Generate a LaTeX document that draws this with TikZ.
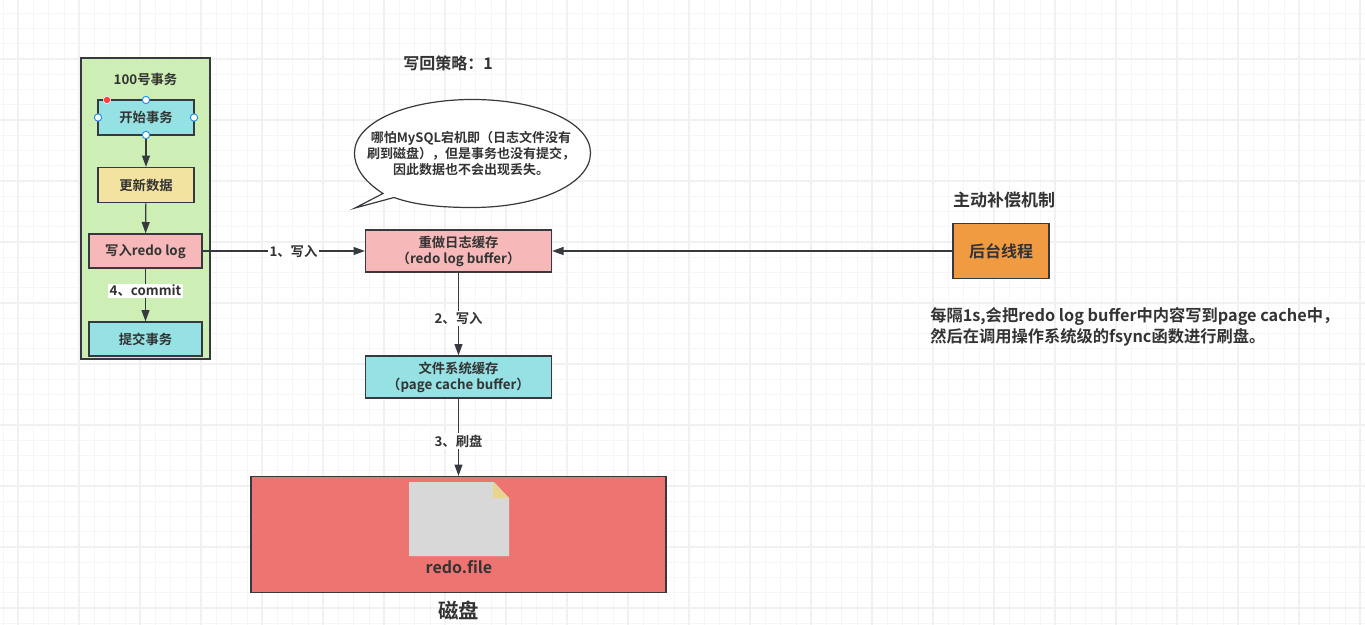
\documentclass[tikz,border=0pt]{standalone}
\usepackage{fontspec}
\setmainfont{Noto Sans CJK SC}[BoldFont={Noto Sans CJK SC Bold}]
\usetikzlibrary{arrows.meta}
\definecolor{inkline}{HTML}{36393D}
\definecolor{inktext}{HTML}{333333}
\definecolor{gridlight}{HTML}{F6F6F6}
\definecolor{gridmajor}{HTML}{F1F1F1}
\definecolor{groupgreen}{HTML}{CDEEB4}
\definecolor{cyanbox}{HTML}{95E1E3}
\definecolor{yellowbox}{HTML}{F3E3A0}
\definecolor{pinkbox}{HTML}{F6B8B8}
\definecolor{orangebox}{HTML}{F09A42}
\definecolor{diskred}{HTML}{EE7472}
\definecolor{pagegray}{HTML}{D8D8D8}
\definecolor{foldyellow}{HTML}{E8D48C}
\definecolor{handleblue}{HTML}{1E8CF0}
\tikzset{
    boxnode/.style={draw=inkline, line width=1pt, align=center, inner sep=0pt, text=inktext, font=\fontsize{10}{12}\selectfont\bfseries},
    plaintext/.style={align=center, inner sep=0pt, text=inktext, font=\fontsize{10}{12}\selectfont\bfseries},
    flowarrow/.style={draw=inkline, line width=0.9pt, -{Triangle[length=8.5pt,width=6pt]}},
    flowlabel/.style={plaintext, fill=white, inner sep=1pt},
    handle/.style={circle, draw=handleblue, fill=white, line width=0.7pt, minimum size=5.5pt, inner sep=0pt}
}
\begin{document}
\begin{tikzpicture}[x=0.75pt, y=-0.75pt]
    \useasboundingbox (0,0) rectangle (1365,625);
    \fill[white] (0,0) rectangle (1365,625);
    % background grid
    \foreach \i in {0,...,89} {
        \draw[gridlight, line width=0.75pt] ({3+15.25*\i},0) -- ({3+15.25*\i},625);
    }
    \foreach \i in {0,...,41} {
        \draw[gridlight, line width=0.75pt] (0,{-2+15.25*\i}) -- (1365,{-2+15.25*\i});
    }
    \foreach \i in {0,...,22} {
        \draw[gridmajor, line width=1.1pt] ({18+61*\i},0) -- ({18+61*\i},625);
    }
    \foreach \i in {0,...,10} {
        \draw[gridmajor, line width=1.1pt] (0,{-2+61*\i}) -- (1365,{-2+61*\i});
    }

    % transaction group
    \node[boxnode, fill=groupgreen, minimum width=129pt*0.75, minimum height=301pt*0.75] (group) at (145.5,208.5) {};
    \node[plaintext] (grouptitle) at (145.5,79.5) {100号事务};
    \node[boxnode, fill=cyanbox, minimum width=96pt*0.75, minimum height=35pt*0.75] (start) at (146,117.5) {开始事务};
    \node[boxnode, fill=yellowbox, minimum width=96pt*0.75, minimum height=35pt*0.75] (update) at (146,185) {更新数据};
    \node[boxnode, fill=pinkbox, minimum width=113pt*0.75, minimum height=34pt*0.75] (writelog) at (145.5,251) {写入redo log};
    \node[boxnode, fill=cyanbox, minimum width=113pt*0.75, minimum height=34pt*0.75] (commit) at (145.5,339) {提交事务};
    \draw[flowarrow] (start) -- (update);
    \draw[flowarrow] (update) -- (writelog);
    \draw[flowarrow] (writelog) -- node[flowlabel, pos=0.42] (commitlabel) {4、commit} (commit);
    % selection handles
    \node[handle] (handletop) at (146,100) {};
    \node[handle] (handleleft) at (98,117.5) {};
    \node[handle] (handleright) at (194,117.5) {};
    \node[handle] (handlebottom) at (146,135) {};
    \node[circle, fill=red!75!white, draw=white, line width=0.4pt, minimum size=5.5pt, inner sep=0pt] (handlered) at (107,100) {};

    % title and callout
    \node[plaintext, font=\fontsize{12}{14}\selectfont\bfseries] (policy) at (448,63.5) {写回策略：1};
    \draw[draw=inkline, line width=0.9pt, fill=white] (383,193.5)
        .. controls (362,180) and (354.5,166) .. (354.5,153)
        .. controls (354.5,122) and (407,99.5) .. (472.5,99.5)
        .. controls (538,99.5) and (590.5,122) .. (590.5,153)
        .. controls (590.5,184) and (538,207.5) .. (472.5,207.5)
        .. controls (440,207.5) and (415,205) .. (394,197.5)
        -- (355,208) -- cycle;
    \node[plaintext, font=\fontsize{9.75}{12.2}\selectfont\bfseries] (note) at (471,153.5) {哪怕MySQL宕机即（日志文件没有\\刷到磁盘），但是事务也没有提交，\\因此数据也不会出现丢失。};

    % buffers
    \node[boxnode, fill=pinkbox, minimum width=186pt*0.75, minimum height=42pt*0.75] (logbuffer) at (458.5,251) {重做日志缓存\\（redo log buffer）};
    \node[boxnode, fill=cyanbox, minimum width=186pt*0.75, minimum height=42pt*0.75] (pagecache) at (458.5,377) {文件系统缓存\\（page cache buffer）};

    % disk
    \node[boxnode, fill=diskred, minimum width=415pt*0.75, minimum height=116pt*0.75] (disk) at (458.5,534.5) {};
    \fill[pagegray] (409,482) -- (494,482) -- (509,498) -- (509,556) -- (409,556) -- cycle;
    \fill[foldyellow] (493,482) -- (509,498) -- (493,498) -- cycle;
    \node[plaintext, font=\fontsize{12}{14}\selectfont\bfseries] (redofile) at (459,567) {redo.file};
    \node[plaintext, font=\fontsize{15.3}{18}\selectfont\bfseries] (disktitle) at (458.5,610.5) {磁盘};

    % background thread
    \node[boxnode, fill=orangebox, minimum width=96pt*0.75, minimum height=55pt*0.75, font=\fontsize{12}{14}\selectfont\bfseries] (thread) at (1001,251) {后台线程};
    \node[plaintext, font=\fontsize{12.75}{14}\selectfont\bfseries] (threadtitle) at (1004,200) {主动补偿机制};
    \node[plaintext, align=left, anchor=west, font=\fontsize{12.2}{15.5}\selectfont\bfseries] (threadnote) at (930,326.5) {每隔1s,会把redo log buffer中内容写到page cache中，\\然后在调用操作系统级的fsync函数进行刷盘。};

    % connectors
    \draw[flowarrow] (writelog) -- node[flowlabel, pos=0.56] (writelabel) {1、写入} (logbuffer);
    \draw[flowarrow] (logbuffer) -- node[flowlabel, pos=0.55] (pagelabel) {2、写入} (pagecache);
    \draw[flowarrow] (pagecache) -- node[flowlabel, pos=0.55] (flushlabel) {3、刷盘} (disk);
    \draw[flowarrow] (thread) -- (logbuffer);
\end{tikzpicture}
\end{document}
